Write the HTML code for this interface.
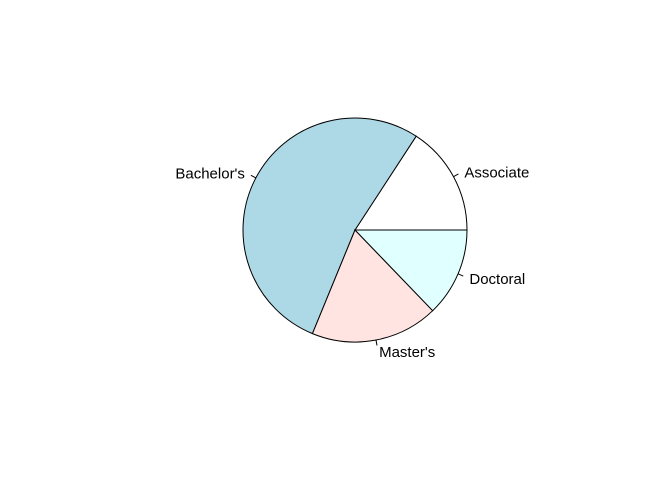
<!DOCTYPE html>
<html><head><meta charset="utf-8"><style>html,body{margin:0;padding:0;background:#fff}</style></head>
<body>
<svg id="chart" width="672" height="480" xmlns="http://www.w3.org/2000/svg" style="font-family:'Liberation Sans',Arial,sans-serif;font-size:15px"></svg>
<script>
const categories = ["Associate", "Bachelor's", "Master's", "Doctoral"];
const values = [15.8, 53.0, 18.4, 12.8];
const colors = ["#FFFFFF", "#ADD8E6", "#FFE4E1", "#E0FFFF"];
const svg = document.getElementById('chart');
const NS = 'http://www.w3.org/2000/svg';
const cx = 355, cy = 230, r = 112;
const total = values.reduce((a, b) => a + b, 0);
function pt(a, rr) { return [cx + rr * Math.cos(a), cy - rr * Math.sin(a)]; }
let start = 0;
values.forEach((v, i) => {
  const end = start + v / total * 2 * Math.PI;
  const p0 = pt(start, r), p1 = pt(end, r);
  const large = (end - start) > Math.PI ? 1 : 0;
  const path = document.createElementNS(NS, 'path');
  path.setAttribute('d', `M${cx},${cy} L${p0[0]},${p0[1]} A${r},${r} 0 ${large} 0 ${p1[0]},${p1[1]} Z`);
  path.setAttribute('fill', colors[i]);
  path.setAttribute('stroke', '#000');
  path.setAttribute('stroke-width', '1');
  
  
  svg.appendChild(path);
  const mid = (start + end) / 2;
  const t0 = pt(mid, r), t1 = pt(mid, r * 1.05), tl = pt(mid, r * 1.1);
  const line = document.createElementNS(NS, 'line');
  line.setAttribute('x1', t0[0]); line.setAttribute('y1', t0[1]);
  line.setAttribute('x2', t1[0]); line.setAttribute('y2', t1[1]);
  line.setAttribute('stroke', '#000');
  
  
  svg.appendChild(line);
  const tx = document.createElementNS(NS, 'text');
  tx.setAttribute('x', tl[0] + (Math.cos(mid) > 0 ? 1 : -1));
  tx.setAttribute('y', tl[1] + 6);
  tx.setAttribute('text-anchor', Math.cos(mid) > 0 ? 'start' : 'end');
  tx.setAttribute('fill', '#000');
  tx.textContent = categories[i];
  
  
  svg.appendChild(tx);
  start = end;
});
</script>
</body></html>
